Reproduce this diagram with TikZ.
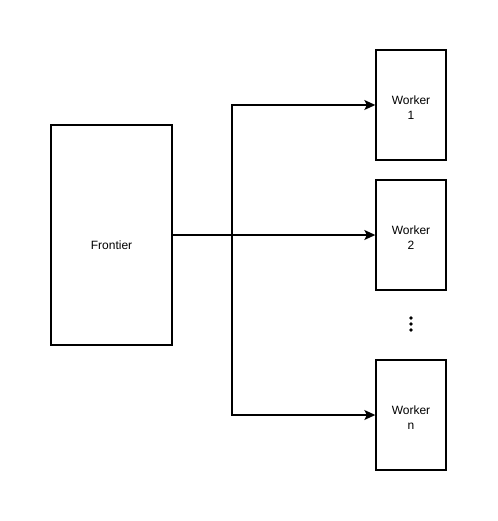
\documentclass[tikz,border=0pt]{standalone}
\usepackage{fontspec}
\setmainfont{Liberation Sans}
\usetikzlibrary{arrows.meta}
\begin{document}
\begin{tikzpicture}[x=1pt,y=-1pt,
  box/.style={draw, line width=1.4pt, fill=white, inner sep=0pt},
  txt/.style={align=center, font=\fontsize{12}{15}\selectfont},
  conn/.style={line width=1.3pt},
  arr/.style={conn, -{Stealth[length=11pt,width=10pt,inset=2.5pt]}}]
\useasboundingbox (0,0) rectangle (497,521);
\node[box, minimum width=121pt, minimum height=220pt,
  label={[txt, yshift=-10pt]center:Frontier}] (f) at (111.5,235) {};
\node[box, minimum width=70pt, minimum height=110pt,
  label={[txt, yshift=-3pt]center:Worker\\1}] (w1) at (411,105) {};
\node[box, minimum width=70pt, minimum height=110pt,
  label={[txt, yshift=-3pt]center:Worker\\2}] (w2) at (411,235) {};
\node[box, minimum width=70pt, minimum height=110pt,
  label={[txt, yshift=-3pt]center:Worker\\n}] (wn) at (411,415) {};
\coordinate (j) at (232,235);
\draw[conn, line width=2pt] (f.east) -- (j);
\draw[arr] (j) |- (w1.west);
\draw[arr] (j) -- (w2.west);
\draw[arr] (j) |- (wn.west);
\foreach \yy in {318,324,330} \fill (411,\yy) circle (1.8pt);
\end{tikzpicture}
\end{document}
